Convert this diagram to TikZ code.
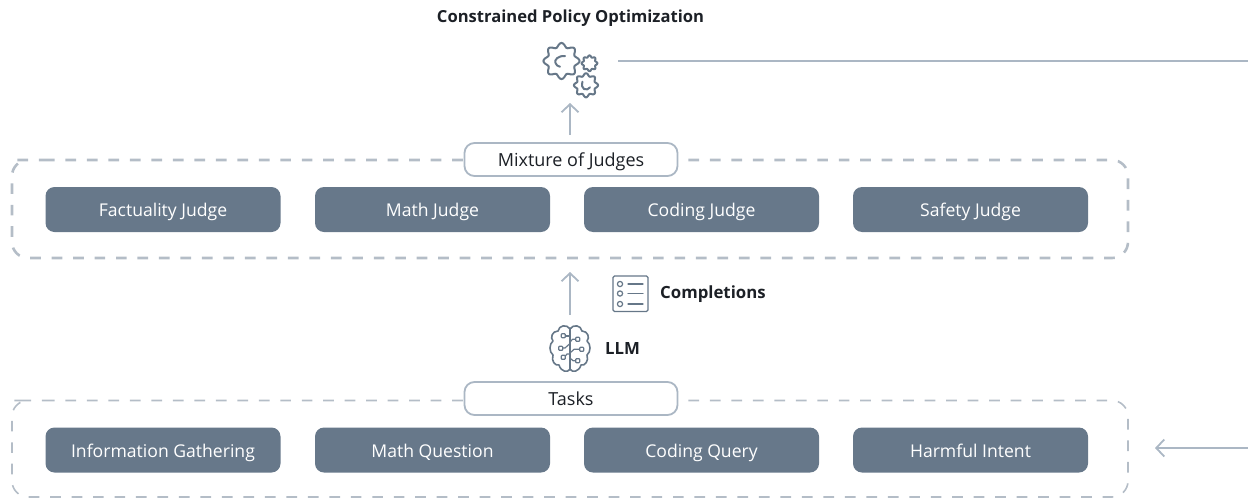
\documentclass[tikz,border=0pt]{standalone}
\usepackage{fontspec}
\setmainfont{Open Sans}
\usetikzlibrary{arrows.meta}
\definecolor{slateb}{HTML}{67788A}
\definecolor{linec}{HTML}{ABB7C4}
\definecolor{dashc}{HTML}{B4BDC7}
\definecolor{iconc}{HTML}{667788}
\definecolor{inkc}{HTML}{1C2026}
\tikzset{
 x=1pt,y=-1pt,
 judge/.style={draw=none,fill=slateb,rounded corners=9pt,minimum width=235pt,minimum height=45pt,text=white,font=\fontsize{17.6}{20}\selectfont,inner sep=0pt,text height=16pt,text depth=2pt},
 headbox/.style={draw=linec,line width=1.8pt,fill=white,rounded corners=10pt,minimum width=213pt,minimum height=33pt,text=inkc,font=\fontsize{18}{20}\selectfont,inner sep=0pt,text height=15pt,text depth=2pt},
 frameA/.style={draw=dashc,line width=2.6pt,rounded corners=16pt,dash pattern=on 10.7pt off 10.78pt},
 frameB/.style={draw=dashc,line width=1.6pt,rounded corners=16pt,dash pattern=on 10.7pt off 10.78pt},
 conn/.style={draw=linec,line width=2pt},
 arr/.style={conn,-{Straight Barb[length=8pt,width=17pt,line width=1.8pt]}},
 lab/.style={text=inkc,font=\fontsize{16.8}{20}\selectfont\bfseries,inner sep=0pt},
 icon/.style={draw=iconc,line width=2pt,line cap=round,line join=round},
 dot/.style={draw=iconc,line width=1.2pt},
}
\newcommand{\gearshape}[4]{% cx cy radius teeth
 \draw[icon] plot[smooth cycle,samples=72,domain=0:355,variable=\t] ({#1+(#3+0.13*#3*cos(#4*\t))*cos(\t)},{#2+(#3+0.13*#3*cos(#4*\t))*sin(\t)});
}
\begin{document}
\begin{tikzpicture}
\useasboundingbox (0,0) rectangle (1248,498);
% frames
\draw[frameA] (28,160) -- (1128,160) -- (1128,258) -- (12,258) -- (12,160) -- cycle;
\draw[frameB] (28,400.5) -- (1128,400.5) -- (1128,497) -- (12,497) -- (12,400.5) -- cycle;
% heads
\node[headbox] (mix) at (571,159.5) {Mixture of Judges};
\node[headbox] (tasks) at (571,398.5) {Tasks};
% judges
\node[judge] (j1) at (163,209.5) {Factuality Judge};
\node[judge] (j2) at (432.5,209.5) {Math Judge};
\node[judge] (j3) at (701.5,209.5) {Coding Judge};
\node[judge] (j4) at (970.5,209.5) {Safety Judge};
\node[judge] (t1) at (163,450) {Information Gathering};
\node[judge] (t2) at (432.5,450) {Math Question};
\node[judge] (t3) at (701.5,450) {Coding Query};
\node[judge] (t4) at (970.5,450) {Harmful Intent};
% labels
\node[lab,font=\fontsize{16.6}{20}\selectfont\bfseries,anchor=base] (cpo) at (570.5,22.7) {Constrained Policy Optimization};
\node[lab,anchor=base west] (comp) at (660,298.3) {Completions};
\node[lab,anchor=base west] (llm) at (605,354.3) {LLM};
% gear icon
\gearshape{561.5}{61}{16}{8}
\gearshape{589.5}{63.3}{7}{8}
\gearshape{586}{85.3}{10.7}{8}
\draw[icon] (565,56) .. controls (558,55.5) and (554,60) .. (555.5,63) .. controls (556,65) and (558,66.5) .. (560,66.7);
\draw[icon] (582.5,81.7) .. controls (581.5,85) and (582,88) .. (584,89) .. controls (586,90) and (589,89.5) .. (590,87.3);
% list icon
\draw[icon,line width=1.3pt,rounded corners=1.5pt] (613,276) rectangle (648,311.5);
\foreach \yy in {284,293.5,304}{
 \draw[dot] (620,\yy) circle[radius=2.6];
 \draw[icon,line width=1.2pt] (628,\yy) -- (643,\yy);
}
% brain icon
\begin{scope}[icon,line width=1.6pt]
\draw (570,328) -- (570,370);
\draw (570,329) .. controls (567,324) and (559,325) .. (558,331)
 .. controls (552,331) and (550,338) .. (553,341)
 .. controls (549,344) and (549,352) .. (553,355)
 .. controls (551,361) and (555,366) .. (559,365)
 .. controls (561,372) and (568,373) .. (570,369);
\draw (570,329) .. controls (573,324) and (581,325) .. (582,331)
 .. controls (588,331) and (590,338) .. (587,341)
 .. controls (591,344) and (591,352) .. (587,355)
 .. controls (589,361) and (585,366) .. (581,365)
 .. controls (579,372) and (572,373) .. (570,369);
\end{scope}
\begin{scope}[dot,line width=1.2pt,line join=round]
\draw[rounded corners=0.8pt] (561.3,333.7) rectangle (565.3,337.7); \draw (565.3,336) -- (570,336);
\draw[rounded corners=0.8pt] (575.7,337.3) rectangle (579.7,341.3); \draw (575.7,339.3) -- (572.5,339.3) -- (570,342);
\draw[rounded corners=0.8pt] (558.7,346.3) rectangle (562.7,350.3); \draw (562.7,348) -- (565,348) -- (570,343.5);
\draw[rounded corners=0.8pt] (579.7,347.3) rectangle (583.7,351.3); \draw (579.7,349.3) -- (574,349.3) -- (570,353);
\draw[rounded corners=0.8pt] (561.3,355.3) rectangle (565.3,359.3); \draw (565.3,356) -- (567,354) -- (570,354);
\draw[rounded corners=0.8pt] (575.7,358.7) rectangle (579.7,362.7); \draw (575.7,360.7) -- (573,360.7) -- (570,358);
\end{scope}
% connectors
\coordinate (rtop) at (1248,61);
\coordinate (rbot) at (1248,448);
\coordinate (gearright) at (618,61);
\coordinate (mixtop) at (570,135);
\coordinate (gearbot) at (570,103);
\coordinate (llmtop) at (570,315);
\coordinate (mixbot) at (570,272);
\coordinate (framein) at (1155,448);
\draw[conn] (gearright) -- (rtop);
\draw[arr] (mixtop) -- (gearbot);
\draw[arr] (llmtop) -- (mixbot);
\draw[arr] (rbot) -- (framein);
\end{tikzpicture}
\end{document}
